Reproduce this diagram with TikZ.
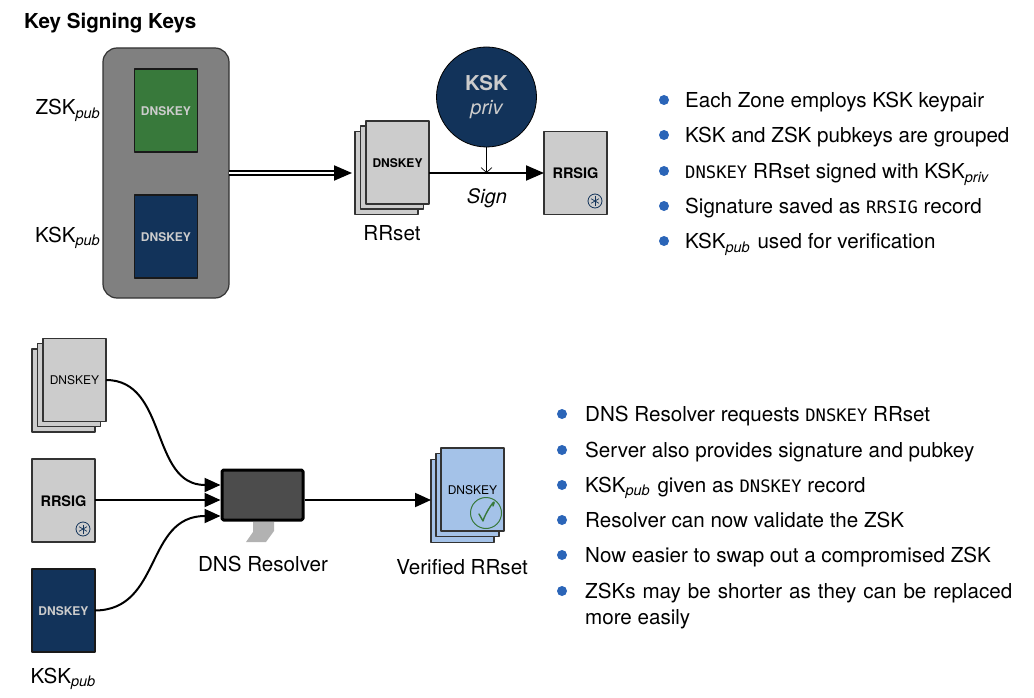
\documentclass[tikz,border=0pt]{standalone}
\usepackage{fontspec}
\setmainfont{TeX Gyre Heros}
\newfontfamily\monofam{DejaVu Sans Mono}
\usetikzlibrary{arrows.meta}
\definecolor{navykey}{HTML}{12335A}
\definecolor{greenkey}{HTML}{38793B}
\definecolor{sheetgray}{HTML}{CCCCCC}
\definecolor{sheetblue}{HTML}{A4C2E8}
\definecolor{bulletblue}{HTML}{2B65B8}
\definecolor{checkgreen}{HTML}{38793B}
\newcommand{\lowtxt}[1]{\raisebox{-3.5pt}{\fontsize{14.5}{14.5}\selectfont\itshape #1}}
\newcommand{\recname}[1]{{\monofam\fontsize{17.2}{17.2}\selectfont #1}}
\newcommand{\sigmark}[3]{%
    \node[sigring] (#1) at (#2,#3){};
    \foreach\a in{30,90,150}{\draw[navykey,line width=.7pt]([shift=(\a:4.5)]#1.center)--([shift=(\a+180:4.5)]#1.center);}}
\tikzset{
    sheet/.style={draw=black!80,line width=1.2pt,fill=sheetgray,minimum width=63pt,minimum height=83pt,inner sep=0pt,outer sep=0pt,text height=10.2pt},
    navysheet/.style={sheet,draw=black!90,fill=navykey,text=sheetgray,font=\fontsize{12}{12}\selectfont\bfseries},
    sigring/.style={circle,draw=navykey,line width=.8pt,minimum size=14pt,inner sep=0pt},
    toptxt/.style={font=\fontsize{20.6}{20.6}\selectfont,inner sep=0pt},
    dot/.style={circle,fill=bulletblue,minimum size=10pt,inner sep=0pt},
    bigtip/.style={-{Triangle[length=18pt,width=15pt]}},
    wire/.style={line width=2pt,-{Triangle[length=16pt,width=14pt]}},
}
\begin{document}
\begin{tikzpicture}[x=1pt,y=-1pt,line join=round,>=stealth]
    \useasboundingbox (0,0) rectangle (1034,698);
    \node[anchor=base west,inner sep=0pt,font=\fontsize{20.6}{20.6}\selectfont\bfseries] (title) at (24,29){Key Signing Keys};
    % upper part
    \node[draw=black!80,line width=1.2pt,fill=black!50,rounded corners=14pt,minimum width=126pt,minimum height=250pt,inner sep=0pt,outer sep=0pt] (keygroup) at (166,173){};
    \node[navysheet,fill=greenkey] (zskbox) at (166,110.5){DNSKEY};
    \node[navysheet] (kskbox) at (166,236.5){DNSKEY};
    \node[toptxt,anchor=base east] (zsklabel) at (100,115){ZSK\lowtxt{pub}};
    \node[toptxt,anchor=base east] (ksklabel) at (100,242){KSK\lowtxt{pub}};
    \node[sheet] (rrback) at (386.5,173){};
    \node[sheet] (rrmid) at (392,167.5){};
    \node[sheet,font=\fontsize{12}{12}\selectfont\bfseries] (rrfront) at (397.5,162.5){DNSKEY};
    \node[toptxt] (rrlabel) at (392,233.5){RRset};
    \node[circle,draw=black,line width=.8pt,fill=navykey,minimum size=100pt,inner sep=0pt] (kskpriv) at (486.5,97){};
    \node[inner sep=0pt,text=sheetgray,font=\fontsize{20.5}{20.5}\selectfont\bfseries] (kskword) at (486.5,83){KSK};
    \node[inner sep=0pt,text=sheetgray,font=\fontsize{20}{20}\selectfont\itshape] (privword) at (486.5,110){priv};
    \node[sheet] (rrsig) at (575.5,173){};
    \node[inner sep=0pt,font=\fontsize{14.5}{14.5}\selectfont\bfseries] (rrsigtxt) at (575.5,173.7){RRSIG};
    \sigmark{sigtop}{595}{201}
    \node[toptxt,font=\fontsize{20}{20}\selectfont\itshape] (signlabel) at (487,198.7){Sign};
    \draw[line width=2.1pt,double,double distance=1.5pt,bigtip,shorten >=3pt](keygroup.east)--(rrback.west);
    \draw[line width=2pt,bigtip](rrfront.east|-rrsig.west)--(rrsig.west);
    \draw[line width=.7pt,-{Straight Barb[length=5pt,width=11pt]}](kskpriv.south)--(kskpriv.south|-rrsig.west);
    \foreach\i/\yy/\t in{1/100/{Each Zone employs KSK keypair},2/135/{KSK and ZSK pubkeys are grouped},3/171/{\recname{DNSKEY} RRset signed with KSK\lowtxt{priv}},4/206/{Signature saved as \recname{RRSIG} record},5/241/{KSK\lowtxt{pub}\kern2pt\ used for verification}}{
        \node[dot] (ta\i) at (664,\yy){};
        \node[toptxt,anchor=base west] (tb\i) at (685,\yy+7.6){\t};
    }
    % lower part
    \node[sheet] (reqback) at (63.5,390.5){};
    \node[sheet] (reqmid) at (69,385){};
    \node[sheet,font=\fontsize{12}{12}\selectfont] (reqfront) at (74.5,380){DNSKEY};
    \node[sheet] (sigbox) at (63.5,500.5){};
    \node[inner sep=0pt,font=\fontsize{14.5}{14.5}\selectfont\bfseries] (sigtxt) at (63.5,501.2){RRSIG};
    \sigmark{siglow}{83}{529}
    \node[navysheet] (pubbox) at (63.5,610.5){DNSKEY};
    \node[toptxt,anchor=base] (publabel) at (63,683){KSK\lowtxt{pub}};
    \fill[black!30] (253,522)--(274,522)--(274,531)--(266,542)--(246,542)--(253,532)--cycle;
    \node[draw=black,line width=3pt,rounded corners=1.5pt,fill=black!70,minimum width=81pt,minimum height=50pt,inner sep=0pt,outer sep=1.5pt] (resolver) at (262.5,495){};
    \node[toptxt] (reslabel) at (263,564){DNS Resolver};
    \node[sheet,fill=sheetblue] (okback) at (462.5,501){};
    \node[sheet,fill=sheetblue] (okmid) at (467.5,495){};
    \node[sheet,fill=sheetblue,font=\fontsize{12}{12}\selectfont] (okfront) at (472.5,489.5){DNSKEY};
    \node[circle,draw=checkgreen,line width=1pt,minimum size=31pt,inner sep=0pt] (okring) at (486,513){};
    \draw[checkgreen,line width=1.4pt,line cap=round](okring.center)++(-7,1)--++(4,7)..controls ++(2,-8) and ++(5,-12)..++(10,-15);
    \node[toptxt] (oklabel) at (462,567){Verified RRset};
    \coordinate (resa) at (resolver.west|-0,485);
    \coordinate (resb) at (resolver.west|-0,500);
    \coordinate (resc) at (resolver.west|-0,516);
    \draw[wire](reqfront.east)..controls (168,380) and (150,485)..(resa);
    \draw[wire](sigbox.east|-resb)--(resb);
    \draw[wire](pubbox.east)..controls (162,610) and (145,516)..(resc);
    \draw[wire](resolver.east|-resb)--(okback.west|-resb);
    \foreach\i/\yy/\t in{1/414/{DNS Resolver requests \recname{DNSKEY} RRset},2/450/{Server also provides signature and pubkey},3/485/{KSK\lowtxt{pub}\kern2pt\ given as \recname{DNSKEY} record},4/520/{Resolver can now validate the ZSK},5/555/{Now easier to swap out a compromised ZSK}}{
        \node[dot] (ua\i) at (562,\yy){};
        \node[toptxt,anchor=base west] (ub\i) at (585,\yy+7.3){\t};
    }
    \node[dot] (ua6) at (562,591){};
    \node[toptxt,anchor=north west,text width=427pt,align=justify,font=\fontsize{20.6}{26}\selectfont] (ub6) at (585,583.4){ZSKs may be shorter as they can be replaced more easily};
\end{tikzpicture}
\end{document}
